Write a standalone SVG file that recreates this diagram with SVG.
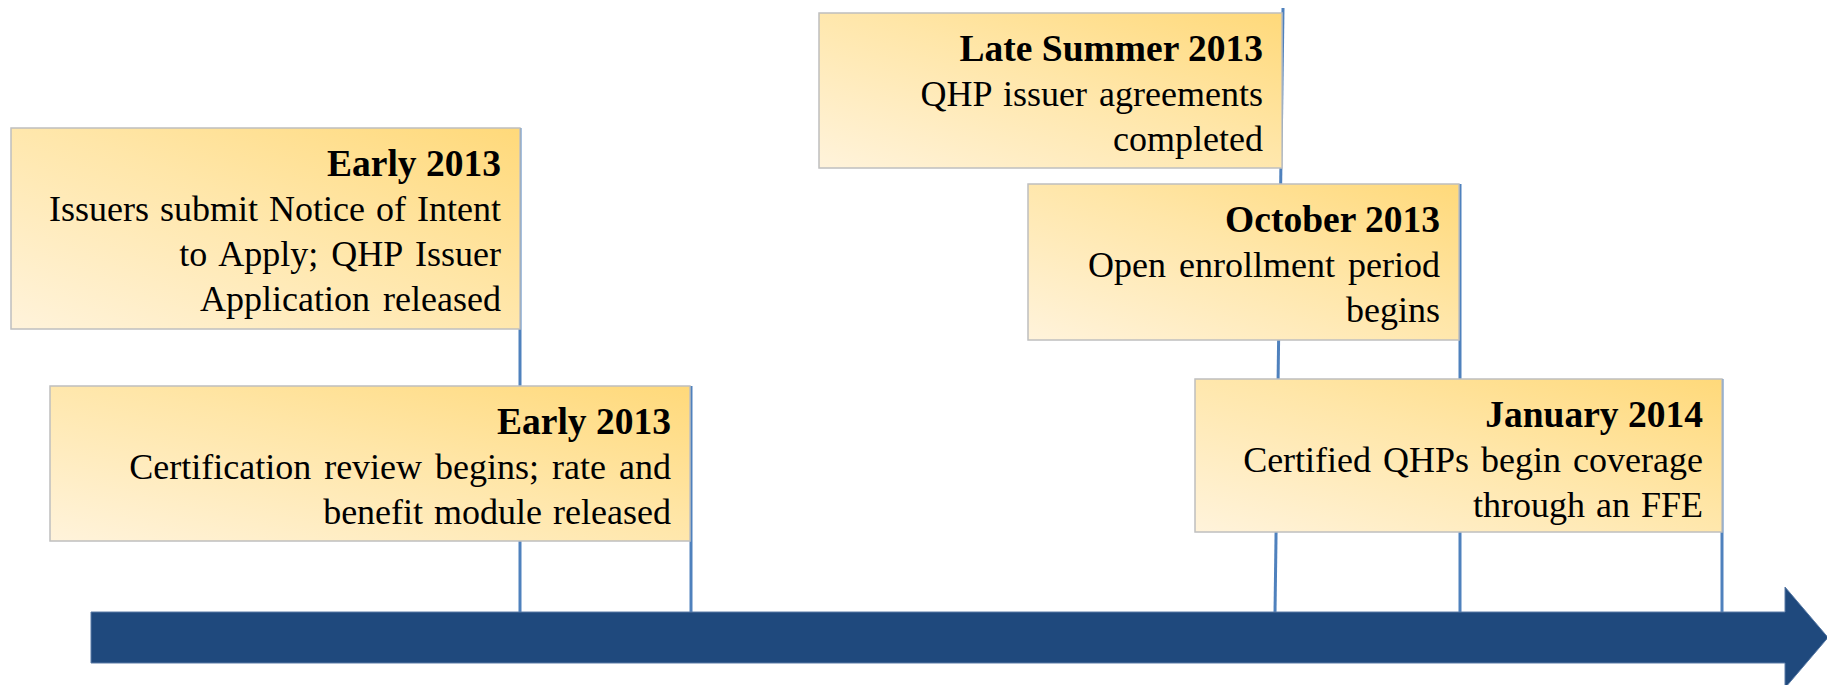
<svg xmlns="http://www.w3.org/2000/svg" width="1827" height="685" viewBox="0 0 1827 685">
<defs>
<linearGradient id="boxfill" x1="0" y1="1" x2="1" y2="0">
<stop offset="0" stop-color="#FFF3DB"/>
<stop offset="0.55" stop-color="#FFE6A8"/>
<stop offset="1" stop-color="#FFD97A"/>
</linearGradient>
<style>
.box{fill:url(#boxfill);stroke:#BFBFBF;stroke-width:1.5}
.tick{stroke:#4F81BD;stroke-width:3;fill:none}
.t{font-family:"Liberation Serif","Times New Roman",serif;font-size:36px;fill:#000;text-anchor:end}
.b{font-weight:bold;font-size:37.5px}
</style>
</defs>
<rect width="1827" height="685" fill="#FFFFFF"/>
<g id="connectors">
<line class="tick" x1="520" y1="128" x2="520" y2="613"/>
<line class="tick" x1="691" y1="386" x2="691" y2="613"/>
<line class="tick" x1="1283" y1="8" x2="1275" y2="613"/>
<line class="tick" x1="1460" y1="184" x2="1460" y2="613"/>
<line class="tick" x1="1722" y1="379" x2="1722" y2="613"/>
</g>
<g id="timeline-arrow">
<path d="M91 612 H1785 V587 L1828 637.5 L1785 688 V663 H91 Z" fill="#1F497D" stroke="#5A7BA6" stroke-width="1"/>
</g>
<g id="node-early2013-a">
<rect class="box" x="11" y="128" width="509" height="201"/>
<text class="t b" x="501" y="176">Early 2013</text>
<text class="t" x="501" y="221" word-spacing="2">Issuers submit Notice of Intent</text>
<text class="t" x="501" y="266" word-spacing="4">to Apply; QHP Issuer</text>
<text class="t" x="501" y="311" word-spacing="4">Application released</text>
</g>
<g id="node-early2013-b">
<rect class="box" x="50" y="386" width="640" height="155"/>
<text class="t b" x="671" y="434">Early 2013</text>
<text class="t" x="671" y="479" word-spacing="4">Certification review begins; rate and</text>
<text class="t" x="671" y="524" word-spacing="2">benefit module released</text>
</g>
<g id="node-latesummer2013">
<rect class="box" x="819" y="13" width="463" height="155"/>
<text class="t b" x="1263" y="61">Late Summer 2013</text>
<text class="t" x="1263" y="106" word-spacing="3">QHP issuer agreements</text>
<text class="t" x="1263" y="151">completed</text>
</g>
<g id="node-october2013">
<rect class="box" x="1028" y="184" width="431" height="156"/>
<text class="t b" x="1440" y="232">October 2013</text>
<text class="t" x="1440" y="277" word-spacing="4">Open enrollment period</text>
<text class="t" x="1440" y="322">begins</text>
</g>
<g id="node-january2014">
<rect class="box" x="1195" y="379" width="527" height="153"/>
<text class="t b" x="1703" y="427">January 2014</text>
<text class="t" x="1703" y="472" word-spacing="3">Certified QHPs begin coverage</text>
<text class="t" x="1703" y="517" word-spacing="2">through an FFE</text>
</g>
</svg>
